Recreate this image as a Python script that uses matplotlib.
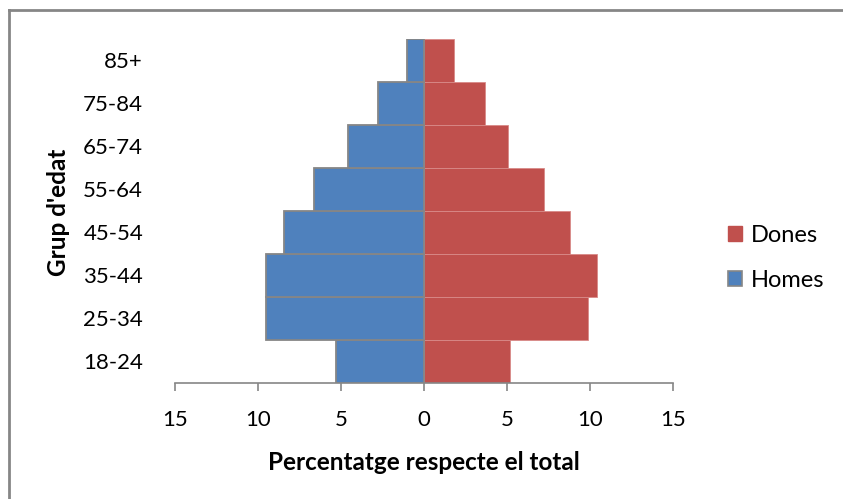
import numpy as np
import matplotlib.pyplot as plt
from matplotlib.patches import Patch
from matplotlib.lines import Line2D

plt.rcParams['font.family'] = ['Lato', 'DejaVu Sans']

# Data (percent of total)
groups = ['18-24', '25-34', '35-44', '45-54', '55-64', '65-74', '75-84', '85+']
homes = [5.3, 9.5, 9.5, 8.45, 6.6, 4.6, 2.8, 1.0]
dones = [5.2, 9.9, 10.4, 8.8, 7.25, 5.05, 3.7, 1.8]
xticks = [-15, -10, -5, 0, 5, 10, 15]

blue = '#4F81BD'
red = '#C0504D'
grey = '#868686'

fig = plt.figure(figsize=(8.43, 4.99), dpi=100)
ax = fig.add_axes([175 / 843, 1 - 382.5 / 499, 498 / 843, 343.5 / 499])

y = np.arange(len(groups))
ax.barh(y, dones, height=1.0, color=red, edgecolor='#D88A88', linewidth=0.6, zorder=2)
ax.barh(y, -np.array(homes), height=1.0, color=blue, edgecolor=grey, linewidth=1.3, zorder=3)

ax.set_xlim(-15, 15)
ax.set_ylim(-0.5, len(groups) - 0.5)
ax.set_xticks(xticks)
ax.set_xticklabels([str(abs(t)) for t in xticks])
ax.set_yticks(y)
ax.set_yticklabels(groups)

for s in ['top', 'right', 'left']:
    ax.spines[s].set_visible(False)
ax.spines['bottom'].set_color(grey)
ax.spines['bottom'].set_linewidth(1.2)
ax.tick_params(axis='x', direction='out', length=6, width=1.2, color=grey,
               labelsize=16, pad=14)
ax.tick_params(axis='y', length=0, labelsize=16, pad=23)

fig.text(424 / 843, 1 - 462 / 499, 'Percentatge respecte el total', ha='center',
         va='center', fontsize=17.5, fontweight='bold')
fig.text(58 / 843, 1 - 212 / 499, "Grup d'edat", ha='center', va='center',
         rotation=90, fontsize=17.5, fontweight='bold')

handles = [Patch(facecolor=red, edgecolor=red, label='Dones'),
           Patch(facecolor=blue, edgecolor=grey, linewidth=1.2, label='Homes')]
fig.legend(handles=handles, loc='center left', bbox_to_anchor=(728 / 843, 1 - 258 / 499),
           frameon=False, fontsize=17, handlelength=0.6, handleheight=0.6,
           handletextpad=0.35, labelspacing=1.0, borderpad=0, borderaxespad=0)

# outer chart border (top and left only visible)
fig.add_artist(Line2D([9 / 843, 9 / 843], [0, 1 - 10 / 499], color=grey, lw=2,
                      transform=fig.transFigure))
fig.add_artist(Line2D([9 / 843, 1], [1 - 10 / 499, 1 - 10 / 499], color=grey, lw=2,
                      transform=fig.transFigure))

fig.savefig('out.png', dpi=100)
